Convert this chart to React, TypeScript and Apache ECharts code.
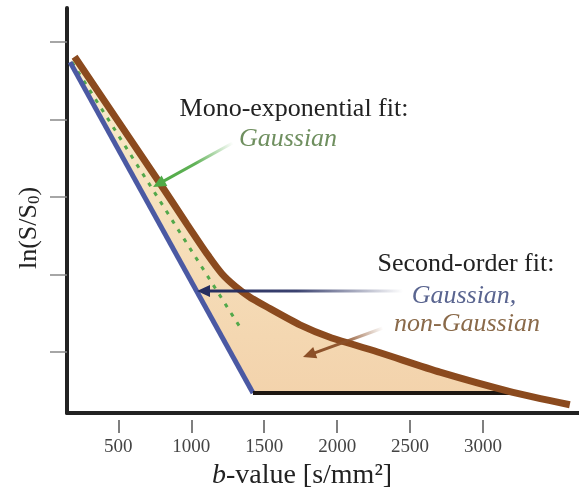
import React, { useEffect, useRef } from "react";
import * as echarts from "echarts";

// ---- data (b-value in s/mm², ln(S/S0)) ----
const bTicks = [500, 1000, 1500, 2000, 2500, 3000];
const yTicks = [0, -1, -2, -3, -4];

// second-order fit (brown curve)
const secondOrderFit: number[][] = [
  [200, -0.19], [770, -1.78], [970, -2.35], [1110, -2.74], [1210, -2.99],
  [1300, -3.15], [1400, -3.29], [1520, -3.42], [1745, -3.65], [1950, -3.81],
  [2295, -4.01], [2705, -4.26], [3205, -4.52], [3595, -4.68],
];
// mono-exponential fit (blue straight line)
const monoFit: number[][] = [[169, -0.26], [1423, -4.53]];
// noise floor / base line (black)
const baseLine: number[][] = [[1423, -4.53], [3205, -4.53]];
// Gaussian component (green dashed)
const gaussianDashed: number[][] = [[182, -0.26], [1334, -3.68]];
// shaded region between fits
const fillRegion: number[][] = [
  ...secondOrderFit.slice(0, 13),
  [1423, -4.53],
  [169, -0.26],
];
// annotation arrows: [tailB, tailY, tipB, tipY]
const arrows: number[][] = [
  [1286, -1.3, 738, -1.87],
  [2451, -3.213, 1039, -3.213],
  [2314, -3.69, 1766, -4.065],
];
const arrowColors = ["80,170,70", "38,46,96", "140,80,40"];

const SERIF = "'Liberation Serif', 'Times New Roman', serif";

export default function App() {
  const ref = useRef<HTMLDivElement>(null);
  useEffect(() => {
    if (!ref.current) return;
    const chart = echarts.init(ref.current, null, { renderer: "svg" });
    const option: any = {
      animation: false,
      grid: { left: 67, right: 0, top: 8, bottom: 79 },
      xAxis: [
        {
          type: "value", min: 148, max: 3658,
          axisLine: { show: true, onZero: false, lineStyle: { color: "#222", width: 4 } },
          axisTick: { show: false }, axisLabel: { show: false }, splitLine: { show: false },
        },
        {
          type: "value", min: 148, max: 3658, position: "bottom", offset: 7,
          axisLine: { show: false, onZero: false },
          axisTick: { show: true, length: 13, customValues: bTicks, lineStyle: { color: "#555", width: 1.5 } },
          axisLabel: {
            show: true, customValues: bTicks, margin: 16, fontFamily: SERIF, fontSize: 19, color: "#444",
            formatter: (v: number) => String(v),
          },
          splitLine: { show: false },
        },
      ],
      yAxis: {
        type: "value", min: -4.787, max: 0.4387,
        axisLine: { show: true, onZero: false, lineStyle: { color: "#222", width: 4 } },
        axisTick: { show: true, length: 17, customValues: yTicks, lineStyle: { color: "#888", width: 1.5 } },
        axisLabel: { show: false }, splitLine: { show: false },
      },
      series: [
        {
          type: "custom", coordinateSystem: "cartesian2d", xAxisIndex: 0, yAxisIndex: 0,
          data: fillRegion, z: 1, silent: true,
          renderItem: (params: any, api: any) => {
            if (params.dataIndex !== 0) return null;
            const pts = fillRegion.map((p) => api.coord(p));
            return {
              type: "polygon", shape: { points: pts },
              style: {
                fill: new echarts.graphic.LinearGradient(0, 0, 0, 1, [
                  { offset: 0, color: "#f8ecce" },
                  { offset: 0.5, color: "#f6dfbb" },
                  { offset: 1, color: "#f3d3ac" },
                ]),
              },
            };
          },
        },
        {
          type: "line", data: gaussianDashed, symbol: "none", z: 3, xAxisIndex: 0,
          lineStyle: { color: "#52a84a", width: 3, type: [4, 7] },
        },
        {
          type: "line", data: monoFit, symbol: "none", z: 4, xAxisIndex: 0,
          lineStyle: { color: "#4b59a3", width: 5 },
        },
        {
          type: "line", data: baseLine, symbol: "none", z: 4, xAxisIndex: 0,
          lineStyle: { color: "#1e1712", width: 4 },
        },
        {
          type: "line", data: secondOrderFit, symbol: "none", z: 5, xAxisIndex: 0,
          smooth: 0.2,
          lineStyle: { color: "#8b4a1e", width: 7 },
        },
        {
          type: "custom", coordinateSystem: "cartesian2d", xAxisIndex: 0, yAxisIndex: 0,
          data: arrows, z: 6, silent: true,
          encode: { x: [0, 2], y: [1, 3] },
          renderItem: (params: any, api: any) => {
            const p1 = api.coord([api.value(0), api.value(1)]);
            const p2 = api.coord([api.value(2), api.value(3)]);
            const c = arrowColors[params.dataIndex];
            const dx = p2[0] - p1[0], dy = p2[1] - p1[1];
            const len = Math.hypot(dx, dy);
            const ux = dx / len, uy = dy / len;
            const hl = 13, hw = 6;
            const bx = p2[0] - ux * hl, by = p2[1] - uy * hl;
            const px = -uy, py = ux;
            return {
              type: "group",
              children: [
                {
                  type: "line",
                  shape: { x1: p1[0], y1: p1[1], x2: bx + ux * 2, y2: by + uy * 2 },
                  style: {
                    lineWidth: 3,
                    stroke: new echarts.graphic.LinearGradient(p1[0], p1[1], bx, by, [
                      { offset: 0, color: `rgba(${c},0)` },
                      { offset: 0.55, color: `rgba(${c},0.9)` },
                      { offset: 1, color: `rgba(${c},1)` },
                    ], true),
                  },
                },
                {
                  type: "polygon",
                  shape: { points: [[p2[0], p2[1]], [bx + px * hw, by + py * hw], [bx - px * hw, by - py * hw]] },
                  style: { fill: `rgb(${c})` },
                },
              ],
            };
          },
        },
      ],
      graphic: [
        { type: "text", x: 294, y: 107, z: 10, style: { text: "Mono-exponential fit:", fontFamily: SERIF, fontSize: 26, fill: "#222", align: "center", verticalAlign: "middle" } },
        { type: "text", x: 288, y: 137, z: 10, style: { text: "Gaussian", fontFamily: SERIF, fontStyle: "italic", fontSize: 26, fill: "#6f8f5f", align: "center", verticalAlign: "middle" } },
        { type: "text", x: 466, y: 262, z: 10, style: { text: "Second-order fit:", fontFamily: SERIF, fontSize: 26, fill: "#222", align: "center", verticalAlign: "middle" } },
        { type: "text", x: 464, y: 294, z: 10, style: { text: "Gaussian,", fontFamily: SERIF, fontStyle: "italic", fontSize: 26, fill: "#5a6590", align: "center", verticalAlign: "middle" } },
        { type: "text", x: 467, y: 322, z: 10, style: { text: "non-Gaussian", fontFamily: SERIF, fontStyle: "italic", fontSize: 26, fill: "#8a6a4a", align: "center", verticalAlign: "middle" } },
        {
          type: "text", x: 302, y: 473, z: 10,
          style: {
            text: "{i|b}{n|-value [s/mm²]}", align: "center", verticalAlign: "middle",
            rich: {
              i: { fontFamily: SERIF, fontStyle: "italic", fontSize: 28, fill: "#222" },
              n: { fontFamily: SERIF, fontSize: 28, fill: "#222" },
            },
          },
        },
        {
          type: "text", x: 27, y: 228, rotation: Math.PI / 2, z: 10,
          style: {
            text: "{a|ln(S/S}{s|0}{a|)}", align: "center", verticalAlign: "middle",
            rich: {
              a: { fontFamily: SERIF, fontSize: 26, fill: "#222", lineHeight: 30, verticalAlign: "middle" },
              s: { fontFamily: SERIF, fontSize: 17, fill: "#222", lineHeight: 30, verticalAlign: "bottom" },
            },
          },
        },
      ],
    };
    chart.setOption(option);
    return () => chart.dispose();
  }, []);
  return <div ref={ref} style={{ position: "fixed", left: 0, top: 0, width: 579, height: 492 }} />;
}
